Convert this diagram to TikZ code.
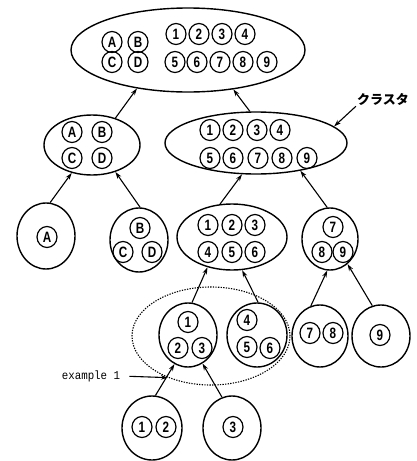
\documentclass[tikz,border=0pt]{standalone}
\usepackage{fontspec}
\setmainfont{Liberation Sans}
\newfontfamily\digitfont{Liberation Sans}[FakeStretch=0.78]
\newfontfamily\monofont{Liberation Mono}[FakeStretch=0.9]
\newfontfamily\jpfont{Noto Sans CJK JP}
\usetikzlibrary{shapes.geometric,arrows.meta}

\begin{document}
\begin{tikzpicture}[x=1pt,y=-1pt,
  group/.style={draw, ellipse, line width=1.4pt, inner sep=0pt},
  item/.style={draw, ellipse, line width=1.2pt, inner sep=0pt,
    minimum width=20pt, minimum height=21pt,
    font=\digitfont\bfseries\fontsize{15}{15}\selectfont},
  arr/.style={line width=1.1pt, -{Stealth[length=7pt,width=4.5pt]}},
  cluster/.style={draw, ellipse, dash pattern=on 1.3pt off 1.3pt,
    line width=1.1pt, inner sep=0pt}]
\useasboundingbox (0,0) rectangle (416,461);

% ---- groups, from the root down ----
\node[group, minimum width=234pt, minimum height=84pt] (top) at (188,50) {};
\node[group, minimum width=96pt,  minimum height=60pt] (abcd) at (92,145) {};
\node[group, minimum width=182pt, minimum height=62pt] (nine) at (256,143) {};
\node[group, minimum width=58pt,  minimum height=66pt] (a)   at (46,236) {};
\node[group, minimum width=58pt,  minimum height=64pt] (bcd) at (139,240) {};
\node[group, minimum width=110pt, minimum height=66pt] (six) at (232,237) {};
\node[group, minimum width=56pt,  minimum height=62pt] (sev) at (330,239) {};
\node[group, minimum width=58pt,  minimum height=64pt] (ot)  at (188,335) {};
\node[group, minimum width=60pt,  minimum height=64pt] (fs)  at (257,335) {};
\node[group, minimum width=56pt,  minimum height=62pt] (se)  at (320,336) {};
\node[group, minimum width=58pt,  minimum height=62pt] (ni)  at (381,336) {};
\node[group, minimum width=60pt,  minimum height=64pt] (oo)  at (152,428) {};
\node[group, minimum width=58pt,  minimum height=64pt] (th)  at (232,428) {};

% ---- members of the root ----
\node[item] (tA) at (112,42) {A};
\node[item] (tB) at (138,42) {B};
\node[item] (tC) at (112,62) {C};
\node[item] (tD) at (138,62) {D};
\node[item] (t1) at (176,34) {1};
\node[item] (t2) at (199,34) {2};
\node[item] (t3) at (222,34) {3};
\node[item] (t4) at (245,34) {4};
\node[item] (t5) at (175,62) {5};
\node[item] (t6) at (197,62) {6};
\node[item] (t7) at (220,62) {7};
\node[item] (t8) at (243,62) {8};
\node[item] (t9) at (267,62) {9};

% ---- second level ----
\node[item] (gA) at (72,132) {A};
\node[item] (gB) at (102,132) {B};
\node[item] (gC) at (72,158) {C};
\node[item] (gD) at (102,158) {D};
\node[item] (n1) at (210,130) {1};
\node[item] (n2) at (233,130) {2};
\node[item] (n3) at (257,130) {3};
\node[item] (n4) at (280,130) {4};
\node[item] (n5) at (210,158) {5};
\node[item] (n6) at (233,158) {6};
\node[item] (n7) at (258,158) {7};
\node[item] (n8) at (282,158) {8};
\node[item] (n9) at (307,158) {9};

% ---- third level ----
\node[item] (aA) at (47,237) {A};
\node[item] (bB) at (140,228) {B};
\node[item] (bC) at (123,252) {C};
\node[item] (bD) at (152,252) {D};
\node[item] (s1) at (208,225) {1};
\node[item] (s2) at (232,225) {2};
\node[item] (s3) at (255,225) {3};
\node[item] (s4) at (208,252) {4};
\node[item] (s5) at (232,252) {5};
\node[item] (s6) at (255,252) {6};
\node[item] (v7) at (333,227) {7};
\node[item] (v8) at (322,252) {8};
\node[item] (v9) at (343,252) {9};

% ---- fourth level ----
\node[item] (o1) at (188,322) {1};
\node[item] (o2) at (178,348) {2};
\node[item] (o3) at (202,348) {3};
\node[item] (f4) at (247,320) {4};
\node[item] (f5) at (247,347) {5};
\node[item] (f6) at (270,348) {6};
\node[item] (e7) at (310,333) {7};
\node[item] (e8) at (333,333) {8};
\node[item] (i9) at (380,335) {9};

% ---- leaves ----
\node[item] (l1) at (142,427) {1};
\node[item] (l2) at (166,427) {2};
\node[item] (l3) at (233,427) {3};

% ---- highlighted cluster ----
\node[cluster, minimum width=158pt, minimum height=98pt] (dash) at (211,336) {};

% ---- labels ----
\node[font=\jpfont\bfseries\fontsize{13}{13}\selectfont, inner sep=1pt] (kl) at (383,99) {クラスタ};
\node[font=\monofont\fontsize{12}{12}\selectfont, inner sep=0pt] (ex) at (91,376) {example 1};

% ---- merge arrows ----
\draw[arr] (abcd.49) -- (top.217);
\draw[arr] (nine.101) -- (top.-41);
\draw[arr] (a.83) -- (abcd.234);
\draw[arr] (bcd.88) -- (abcd.-49);
\draw[arr] (six.110) -- (nine.246);
\draw[arr] (sev.95) -- (nine.-32);
\draw[arr] (ot.83) -- (six.231);
\draw[arr] (fs.88) -- (six.-73);
\draw[arr] (se.107) -- (sev.265);
\draw[arr] (ni.106) -- (sev.-55);
\draw[arr] (oo.84) -- (ot.245);
\draw[arr] (th.108) -- (ot.-63);

% ---- label pointers ----
\draw[arr] (kl.south west) -- (nine.12);
\draw[arr, shorten <=9pt] (ex.east) -- (dash.224);
\end{tikzpicture}
\end{document}
